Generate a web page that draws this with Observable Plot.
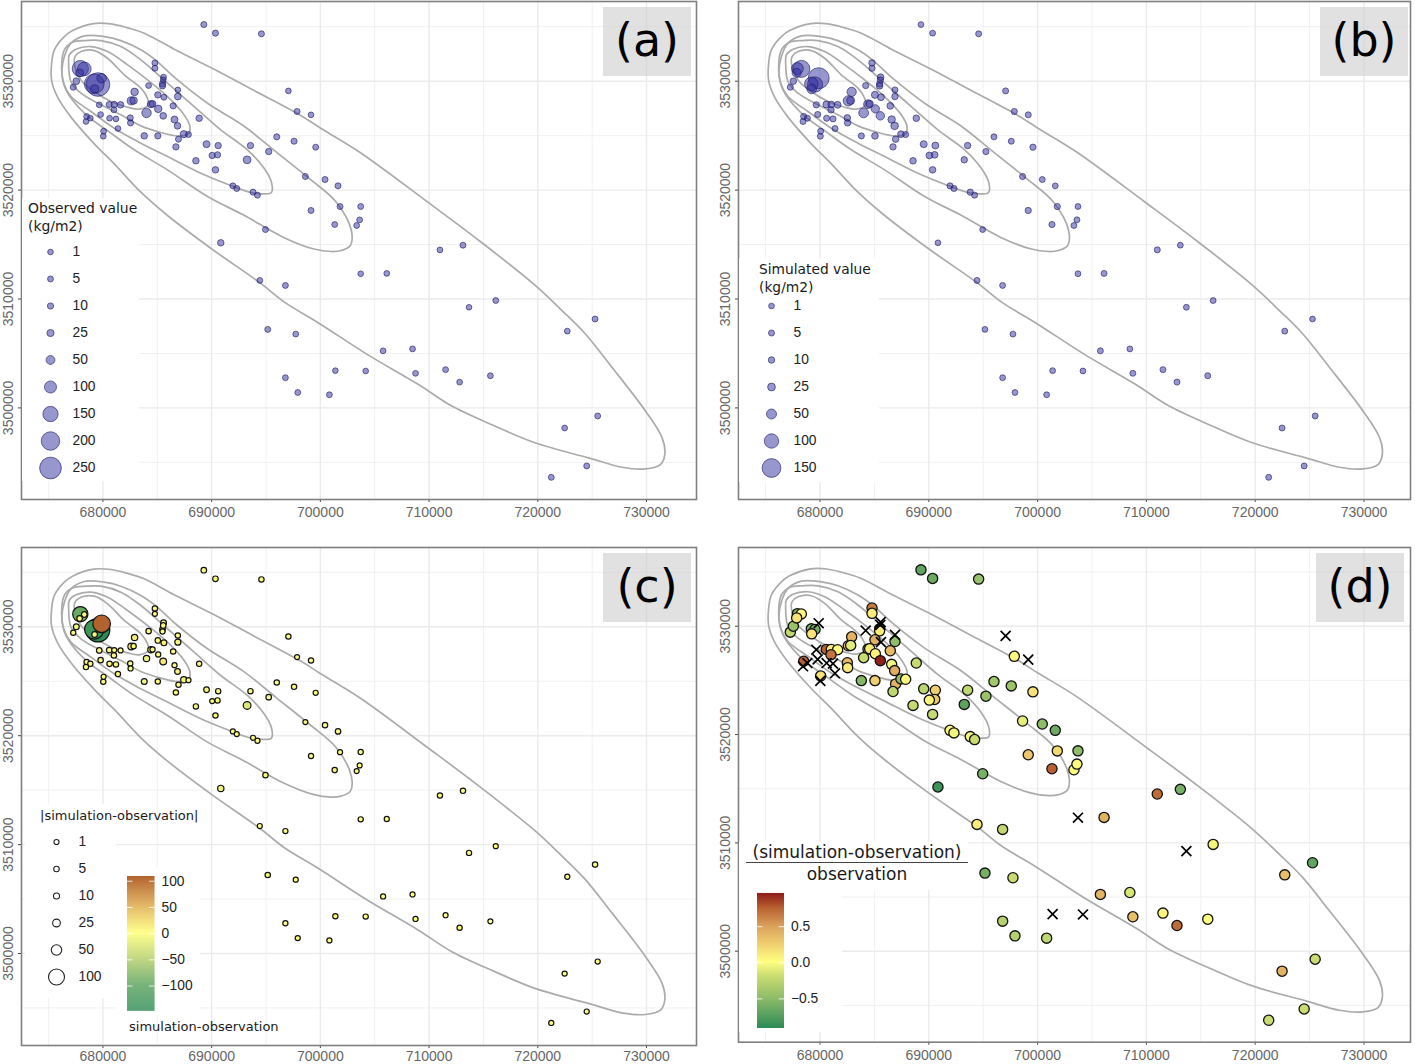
<!DOCTYPE html>
<html><head><meta charset="utf-8">
<script src="https://cdn.jsdelivr.net/npm/d3@7"></script>
<script src="https://cdn.jsdelivr.net/npm/@observablehq/plot@0.6"></script>
<style>
html,body{margin:0;padding:0;background:#fff}
#root{position:relative;width:1415px;height:1064px;overflow:hidden;background:#fff}
#root>*{position:absolute}
.title{font-family:"DejaVu Sans",sans-serif;color:#1a1a1a;white-space:nowrap}
.tag{background:rgba(205,205,205,.6);font-family:"DejaVu Sans",sans-serif;font-size:46px;color:#000;text-align:center;line-height:66px}
.wb{background:#fff}
svg{overflow:visible}
</style></head><body><div id="root"></div>
<script>
// Station positions (map metres), observed and simulated values (kg/m2), same order
const eastings=[689280,690350,694580,697060,697860,699140,695990,697580,699570,695250,693570,693260,690600,690540,690050,689530,688550,690350,691950,692310,693810,694210,698620,700430,701625,699140,701810,701320,694950,690840,
684780,684780,685575,685545,685480,685480,686890,686890,684200,682910,685050,685605,682600,682820,684410,684565,686460,685085,684010,685545,686585,686860,688850,
679660,680580,681040,681620,681010,679785,678500,678840,678440,680610,681195,682510,682540,681380,680060,680030,683800,685050,686950,687440,687870,686710,
677270,677550,677920,678285,677855,679200,679540,679235,679880,
713120,711000,706110,703710,713675,716135,725270,722715,708480,705770,711520,708755,712810,715640,701380,704170,696785,697920,700830,725510,722470,724500,721240,695160,697735,694430,696785,703710,703340,703615];
const northings=[3535200,3534410,3534350,3529110,3527220,3526910,3524890,3524490,3523940,3523540,3524090,3522780,3524090,3523240,3523180,3524220,3522690,3521860,3520390,3520150,3519810,3519535,3521250,3520970,3520390,3518130,3518490,3516840,3516380,3515160,
3531680,3531190,3530370,3530120,3529755,3529570,3529200,3528590,3529600,3529020,3528745,3528530,3528195,3528225,3527890,3527920,3527735,3527460,3527090,3526820,3526480,3525900,3526600,
3527830,3527860,3527860,3527830,3527370,3526940,3526760,3526600,3526300,3526600,3526540,3526630,3526175,3525655,3525410,3524950,3524980,3524980,3524675,3525135,3525100,3523970,
3529450,3530000,3531160,3531130,3530765,3529755,3529695,3529295,3530275,
3514940,3514510,3512350,3512320,3509240,3509860,3508165,3507050,3505420,3505240,3503515,3503175,3502370,3502955,3503420,3503390,3502775,3501415,3501205,3499260,3498155,3494670,3493625,3507210,3506780,3511705,3511245,3518495,3516750,3517270];
const observed=[8,8,7,2,6,2,8,8,6,12,12,35,12,10,12,22,14,14,6,6,8,6,6,7,7,6,6,4,6,14,
6,6,5,3,14,10,2,20,3,30,12,6,38,30,24,18,10,30,60,17,22,16,14,
3,8,12,14,6,2,4,2,2,2,2,8,9,2,4,2,14,10,7,25,5,12,
8,18,165,125,35,220,280,40,60,
6,3,3,1,1,4,5,3,4,3,4,3,3,4,1,1,4,4,4,5,3,5,5,6,4,4,5,5,4,4];
const simulated=[2.4,2.8,3.9,5,6.2,5,4.8,4.6,6.9,6.6,9,10,15,12.8,12.6,16,11,11,6.3,5.7,7.6,4.8,5.4,3.5,2.5,7.8,7.2,7,2.4,2.1,
9.9,6.6,12,8,8.4,11,5,10,7,42,17,14,53,27,35,20,13.5,31.5,48,33,21,23,11,
8,14,13,14.3,10,6,7,5,5,6,6,11,10,5,4.6,5,6.3,12.5,9.8,12.5,5.1,9,
6,10,72,130,40,90,110,46,175,
2.4,5.1,4.2,3,3,3.8,1.5,4,3.4,4.2,4.2,4,5.1,4,3,3,2.8,2.8,3,4,4.2,4,4,2.4,3.2,4.4,3.8,2.5,3.9,4.1];

// Density contours (map metres), closed curves, [easting, northing]
const contour1=[[675530,3532880],[675280,3531650],[675280,3530060],[675830,3528530],[677060,3526700],[679200,3524250],[681040,3522410],[683490,3519810],[685940,3517670],[689920,3514660],[694520,3511430],[696660,3509735],[699940,3507735],[704230,3504960],[708950,3502190],[712050,3500190],[716050,3498335],[719740,3496795],[724660,3495415],[727750,3494550],[729900,3494400],[731285,3494795],[731690,3495780],[731435,3497260],[729900,3499725],[726820,3503730],[724360,3506810],[722200,3508965],[719740,3511275],[714510,3515435],[709890,3518890],[703620,3523480],[700030,3525685],[698190,3526850],[693910,3529140],[690230,3531100],[686555,3532940],[683800,3534410],[682270,3534900],[680735,3535260],[679140,3535290],[677210,3534650],[676450,3534100]];
const contour2=[[684810,3531960],[686860,3530120],[689620,3527980],[692900,3525930],[695960,3523480],[699020,3521030],[701470,3518890],[702850,3516290],[702760,3514910],[701930,3514455],[701010,3514360],[699330,3514610],[696570,3515680],[692900,3517730],[689620,3519410],[685940,3521860],[682880,3523700],[680740,3525230],[678285,3527060],[676600,3529200],[676230,3530730],[676450,3532260],[677060,3533490],[678285,3534160],[680120,3534100],[681650,3533730],[683490,3532880]];
const contour3=[[676200,3531350],[676450,3532880],[677210,3533580],[678440,3533730],[679820,3533730],[681650,3533180],[683490,3531960],[685940,3529820],[688390,3527675],[690840,3525530],[693290,3523700],[694825,3522010],[695500,3520730],[695500,3519780],[694825,3519660],[693600,3519780],[691460,3520545],[689005,3521555],[685940,3523085],[683490,3524310],[681040,3525685],[678900,3527215],[677060,3528590],[676390,3529820]];
const contour4=[[676845,3531650],[676905,3532420],[677520,3532940],[678900,3533180],[680430,3532720],[682270,3531500],[684100,3530120],[685940,3528590],[687470,3526910],[688000,3525840],[687840,3525135],[686860,3524980],[685330,3525290],[683490,3525900],[681650,3526910],[679820,3527830],[677980,3528900],[677060,3529970]];
const contour5=[[677370,3531650],[677430,3532260],[677980,3532720],[679200,3532815],[680430,3532110],[681960,3530580],[683490,3529360],[684100,3528440],[684170,3527830],[683340,3527430],[682270,3527610],[680740,3528130],[679200,3529050],[677980,3530120]];
const contours=[contour1,contour2,contour3,contour4,contour5];

const xMajor=[680000,690000,700000,710000,720000,730000];
const xMinor=[675000,685000,695000,705000,715000,725000];
const yMajor=[3500000,3510000,3520000,3530000];
const yMinor=[3495000,3505000,3515000,3525000,3535000];

const legendObs=[1,5,10,25,50,100,150,200,250];
const legendSim=[1,5,10,25,50,100,150];
const legendDiff=[1,5,10,25,50,100];
const barDiffTicks=[-100,-50,0,50,100];
const barRatioTicks=[-0.5,0,0.5];

const diffStops=[-148,-100,-50,0,50,109];
const diffColors=["#2e8b57","#5aa35d","#b7d06e","#ffff80","#e3b560","#b1622f"];
const ratioStops=[-0.91,-0.5,-0.2,0,0.25,0.5,0.75,0.96];
const ratioColors=["#2e8b57","#8fbc68","#c8dc70","#ffff80","#f0cf70","#d9a05a","#b8602f","#8b1a1a"];

const stations=eastings.map((e,i)=>{
  const obs=observed[i],sim=simulated[i],diff=sim-obs;
  return {e,n:northings[i],obs,sim,diff,abs:Math.abs(diff),ratio:diff/obs};
});
const inRange=stations.filter(d=>d.ratio<1);
const outRange=stations.filter(d=>d.ratio>=1);

const rObs={type:"linear",domain:[0,250],range:[2.8,10.85]};
const rSim={type:"linear",domain:[0,150],range:[2.8,9.4]};
const rDiff={type:"linear",domain:[0,100],range:[2.5,8]};
const colDiff={type:"linear",domain:diffStops,range:diffColors,clamp:true};
const colRatio={type:"linear",domain:ratioStops,range:ratioColors,clamp:true};

const root=document.getElementById("root");
function place(el,left,top){el.style.left=left+"px";el.style.top=top+"px";root.appendChild(el);return el;}
function box(left,top,w,h){const d=document.createElement("div");d.className="wb";d.style.width=w+"px";d.style.height=h+"px";return place(d,left,top);}
function text(str,left,top,size,cls="title"){const d=document.createElement("div");d.className=cls;d.textContent=str;d.style.fontSize=size+"px";d.style.lineHeight=(size+4)+"px";return place(d,left,top);}
function tag(str,left,top){const d=document.createElement("div");d.className="tag";d.textContent=str;d.style.width="88px";d.style.height="69px";return place(d,left,top);}

const tickFont={fontFamily:"'Liberation Sans',Arial,sans-serif",fontSize:14};
function panel(o,pointMarks){
  return Plot.plot({
    width:o.w,height:o.h,marginLeft:21,marginRight:2,marginTop:1,marginBottom:o.mb,
    style:{background:"transparent",overflow:"visible"},
    x:{domain:o.xd,label:null},y:{domain:o.yd,label:null},
    r:o.r,color:o.color,
    marks:[
      Plot.ruleX(xMinor,{stroke:"#f1f1f1",strokeWidth:1}),
      Plot.ruleY(yMinor,{stroke:"#f1f1f1",strokeWidth:1}),
      Plot.ruleX(xMajor,{stroke:"#ebebeb",strokeWidth:1.4}),
      Plot.ruleY(yMajor,{stroke:"#ebebeb",strokeWidth:1.4}),
      ...contours.map(c=>Plot.line(c,{x:"0",y:"1",stroke:"#ababab",strokeWidth:1.7,curve:"catmull-rom-closed"})),
      ...pointMarks,
      Plot.axisX(xMajor,{anchor:"bottom",label:null,tickSize:3,tickPadding:o.pad??5,tickFormat:d=>String(d),stroke:"#444",fill:"#666",...tickFont}),
      Plot.axisY(yMajor,{anchor:"left",label:null,tickSize:3,tickPadding:6,tickRotate:-90,tickFormat:d=>String(d),stroke:"#444",fill:"#666",...tickFont}),
      Plot.frame({stroke:"#7f7f7f",strokeWidth:1.6})
    ]
  });
}
const xdA=[672509,734600],xdB=[672509,734274];
const purple={fill:"#312e9f",fillOpacity:0.5,stroke:"#1b1960",strokeOpacity:0.6,strokeWidth:1};

place(panel({w:698,h:525,mb:26,xd:xdA,yd:[3491589,3537319],r:rObs},
  [Plot.dot(stations,{x:"e",y:"n",r:"obs",...purple})]),0,0);
place(panel({w:695,h:525,mb:26,xd:xdB,yd:[3491589,3537319],r:rSim},
  [Plot.dot(stations,{x:"e",y:"n",r:"sim",...purple})]),717,0);
place(panel({w:698,h:518,mb:19,pad:3,xd:xdA,yd:[3491553,3537282],r:rDiff,color:colDiff},
  [Plot.dot(stations,{x:"e",y:"n",r:"abs",fill:"diff",stroke:"#111",strokeWidth:1.2})]),0,546);
place(panel({w:695,h:518,mb:22.3,xd:xdB,yd:[3491600,3537265],color:colRatio},
  [Plot.dot(inRange,{x:"e",y:"n",r:5.1,fill:"ratio",stroke:"#111",strokeWidth:1.3}),
   Plot.dot(outRange,{x:"e",y:"n",r:4.6,symbol:"times",stroke:"#000",strokeWidth:1.7})]),717,546);

// legend backgrounds
box(22,198,117,283); box(739,258,140,224);
box(25,804,91,194); box(116,868,84,149);
box(739,842,229,48); box(739,890,103,142);

function sizeLegend(values,rOpt,dotStyle,left,top,w,dotX,labX){
  return place(Plot.plot({
    width:w,height:27*values.length,margin:0,
    style:{background:"transparent",overflow:"visible"},
    x:{type:"point",domain:["dot","label"],range:[dotX,labX],padding:0,axis:null},
    y:{type:"band",domain:values.map(String),padding:0,axis:null},
    r:rOpt,
    marks:[
      Plot.dot(values,{x:()=>"dot",y:d=>String(d),r:d=>d,...dotStyle}),
      Plot.text(values,{x:()=>"label",y:d=>String(d),text:d=>String(d),textAnchor:"start",fill:"#222",fontFamily:"'Liberation Sans',Arial,sans-serif",fontSize:13.8})
    ]
  }),left,top);
}
sizeLegend(legendObs,rObs,purple,20,237.5,110,30,52);
sizeLegend(legendSim,rSim,purple,737,291.5,110,34,56);
sizeLegend(legendDiff,rDiff,{fill:"none",stroke:"#222",strokeWidth:1.1},20,827.8,100,36,58);

text("Observed value",28,200,13.9);
text("(kg/m2)",28,218,13.9);
text("Simulated value",759,261,13.8);
text("(kg/m2)",759,279,13.8);
text("|simulation-observation|",40,806.5,13);
text("simulation-observation",129,1017.5,13);

function colorBar(o){
  const lo=o.domain[0],hi=o.domain[1],step=(hi-lo)/135;
  const cells=d3.range(lo,hi,step);
  return place(Plot.plot({
    width:o.barW+60,height:o.barH,marginLeft:0,marginRight:60,marginTop:0,marginBottom:0,
    style:{background:"transparent",overflow:"visible"},
    x:{domain:[0,1],axis:null},y:{domain:o.domain,axis:null},color:o.color,
    marks:[
      Plot.rect(cells,{x1:0,x2:1,y1:d=>d,y2:d=>d+step*1.05,fill:d=>d}),
      Plot.ruleY(o.ticks,{x1:0,x2:0.2,stroke:"#fff",strokeWidth:0.8}),
      Plot.ruleY(o.ticks,{x1:0.8,x2:1,stroke:"#fff",strokeWidth:0.8}),
      Plot.text(o.ticks,{x:1,y:d=>d,dx:6.5,text:o.fmt,textAnchor:"start",fill:"#222",fontFamily:"'Liberation Sans',Arial,sans-serif",fontSize:13.8})
    ]
  }),o.left,o.top);
}
const minus=s=>s.replace("-","\u2212");
colorBar({left:127,top:876,barW:27.5,barH:134.7,domain:[-148,109],color:colDiff,ticks:barDiffTicks,fmt:d=>minus(String(d))});
colorBar({left:757.3,top:892.7,barW:27,barH:135,domain:[-0.91,0.96],color:colRatio,ticks:barRatioTicks,fmt:d=>minus(d.toFixed(1))});

// fraction title of panel (d)
const t1=text("(simulation-observation)",746,842,17);t1.style.width="222px";t1.style.textAlign="center";
const t2=text("observation",746,863.5,17);t2.style.width="222px";t2.style.textAlign="center";
const rule=document.createElement("div");rule.style.cssText="width:222px;height:1px;background:#444";place(rule,746,862);

tag("(a)",603,7);tag("(b)",1320,7);tag("(c)",603,553);tag("(d)",1316,553);
</script></body></html>
